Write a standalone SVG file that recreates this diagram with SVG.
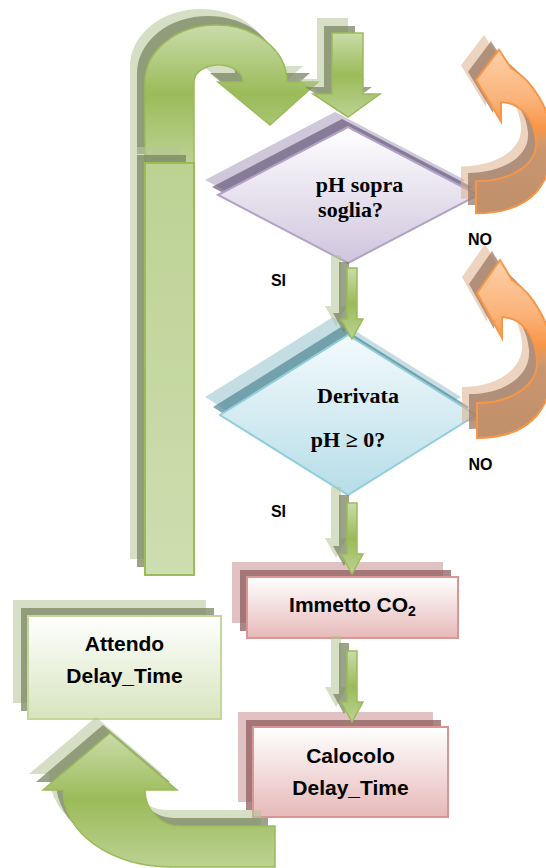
<svg xmlns="http://www.w3.org/2000/svg" xmlns:xlink="http://www.w3.org/1999/xlink" width="546" height="868" viewBox="0 0 546 868">
  <defs>
    <style>
      .g1 { fill: #b4c496; fill-opacity: .55; }
      .g2 { fill: #7a8660; fill-opacity: .75; }
      .p1 { fill: #c79090; fill-opacity: .55; }
      .p2 { fill: #8f5e5e; fill-opacity: .75; }
      .v1 { fill: #a899bc; fill-opacity: .55; }
      .v2 { fill: #6f6382; fill-opacity: .75; }
      .b1 { fill: #92c1cc; fill-opacity: .55; }
      .b2 { fill: #578c98; fill-opacity: .75; }
      .o1 { fill: #dcb18c; fill-opacity: .55; }
      .o2 { fill: #9c7963; fill-opacity: .75; }
      .garrow { fill: url(#gArrow); stroke: #9bbb59; stroke-width: 1.5; }
      .gbar { fill: url(#gBar); stroke: #9bbb59; stroke-width: 2; }
      .oarrow { fill: url(#oGrad); stroke: #f79646; stroke-width: 2; }
      .boxG { fill: url(#fillGreen); stroke: #c3d69b; stroke-width: 2; }
      .boxP { fill: url(#fillPink); stroke: #d99694; stroke-width: 2; }
      .diaV { fill: url(#fillViolet); stroke: #b2a2c7; stroke-width: 2; }
      .diaB { fill: url(#fillBlue); stroke: #92cddc; stroke-width: 2; }
      .sans { font-family: "Liberation Sans", Arial, sans-serif; font-weight: bold; fill: #000; }
      .serif { font-family: "Liberation Serif", "Times New Roman", serif; font-weight: bold; font-size: 22px; fill: #000; }
      .box-txt { font-size: 21px; }
      .lbl { font-size: 16px; }
    </style>

    <linearGradient id="gArrow" x1="0" y1="0" x2="0" y2="1">
      <stop offset="0" stop-color="#c9dcaa"/>
      <stop offset="0.5" stop-color="#9bbb59"/>
      <stop offset="1" stop-color="#bcd293"/>
    </linearGradient>
    <linearGradient id="gBar" x1="0" y1="0" x2="0" y2="1">
      <stop offset="0" stop-color="#bcd293"/>
      <stop offset="1" stop-color="#cddeb0"/>
    </linearGradient>
    <linearGradient id="oGrad" x1="0" y1="0" x2="0" y2="1">
      <stop offset="0" stop-color="#fdd0a8"/>
      <stop offset="0.3" stop-color="#fbb37a"/>
      <stop offset="0.48" stop-color="#f79646"/>
      <stop offset="0.56" stop-color="#d59a6c"/>
      <stop offset="0.62" stop-color="#c8956e"/>
      <stop offset="1" stop-color="#c0906c"/>
    </linearGradient>
    <linearGradient id="fillGreen" x1="0" y1="0" x2="0" y2="1">
      <stop offset="0" stop-color="#ffffff"/>
      <stop offset="1" stop-color="#d7e4bd"/>
    </linearGradient>
    <linearGradient id="fillPink" x1="0" y1="0" x2="0" y2="1">
      <stop offset="0" stop-color="#ffffff"/>
      <stop offset="1" stop-color="#e6b9b8"/>
    </linearGradient>
    <linearGradient id="fillViolet" x1="0" y1="0" x2="0" y2="1">
      <stop offset="0" stop-color="#ffffff"/>
      <stop offset="1" stop-color="#cfc5dd"/>
    </linearGradient>
    <linearGradient id="fillBlue" x1="0" y1="0" x2="0" y2="1">
      <stop offset="0" stop-color="#f4fafc"/>
      <stop offset="1" stop-color="#b6dde8"/>
    </linearGradient>

    <!-- reusable outlines -->
    <polygon id="dia1" points="218,195 348,127 478,195 348,263"/>
    <polygon id="dia2" points="220,415 348,335 476,415 348,495"/>
    <path id="uTurn" d="M145,163 L145,82 A71,57 0 0 1 287,82 L318,82 L270,125 L218,82 L243,82 A24.5,17 0 0 0 194,82 L194,163 Z"/>
    <rect id="bar" x="145" y="163" width="49" height="412"/>
    <path id="topArrow" d="M332,33 L363,33 L363,94 L380,94 L348,117 L313,94 L332,94 Z"/>
    <path id="smallArrow" d="M-5,-71 L5,-71 L5,-20 L11,-20 L0,0 L-11,-20 L-5,-20 Z"/>
    <path id="bendArrow" d="M110,733 L177,790 L145,790 A35,36 0 0 0 180,826 L275,826 L275,867 L170,867 A107,77 0 0 1 63,790 L43,790 Z"/>
    <path id="curlArrow" d="M0,0 L23,-33 L35,-13 C55,0 76,30 76,70 C76,110 58,145 0,145 L0,110 C35,110 62,92 60,66 C58,42 45,25 25,24 L25,45 Z"/>
  </defs>

  <rect width="546" height="868" fill="#ffffff"/>

  <!-- decision: pH above threshold -->
  <g id="check-ph">
    <use href="#dia1" class="v1" transform="translate(-13,-15)"/>
    <use href="#dia1" class="v2" transform="translate(-6,-8)"/>
    <use href="#dia1" class="diaV"/>
    <text class="serif" x="359.5" y="192" text-anchor="middle">pH sopra</text>
    <text class="serif" x="350.5" y="217" text-anchor="middle">soglia?</text>
  </g>

  <!-- decision: pH derivative -->
  <g id="check-derivative">
    <use href="#dia2" class="b1" transform="translate(-15,-18)"/>
    <use href="#dia2" class="b2" transform="translate(-7,-8)"/>
    <use href="#dia2" class="diaB"/>
    <text class="serif" x="358" y="403" text-anchor="middle">Derivata</text>
    <text class="serif" x="348" y="447" text-anchor="middle">pH ≥ 0?</text>
  </g>

  <!-- action: inject CO2 -->
  <g id="inject-co2">
    <rect class="p1" x="232" y="562" width="211" height="61"/>
    <rect class="p2" x="240" y="570" width="211" height="61"/>
    <rect class="boxP" x="247" y="577" width="211" height="61"/>
    <text class="sans box-txt" x="352.5" y="612" text-anchor="middle">Immetto CO<tspan font-size="14" dy="4">2</tspan></text>
  </g>

  <!-- action: compute delay -->
  <g id="compute-delay">
    <rect class="p1" x="238" y="712" width="195" height="90"/>
    <rect class="p2" x="246" y="720" width="195" height="90"/>
    <rect class="boxP" x="253" y="727" width="195" height="90"/>
    <text class="sans box-txt" x="350.5" y="763" text-anchor="middle">Calocolo</text>
    <text class="sans box-txt" x="350.5" y="795" text-anchor="middle">Delay_Time</text>
  </g>

  <!-- action: wait -->
  <g id="wait-delay">
    <rect class="g1" x="13" y="600" width="193" height="103"/>
    <rect class="g2" x="21" y="608" width="193" height="103"/>
    <rect class="boxG" x="28" y="616" width="193" height="103"/>
    <text class="sans box-txt" x="124.5" y="651" text-anchor="middle">Attendo</text>
    <text class="sans box-txt" x="124.5" y="683" text-anchor="middle">Delay_Time</text>
  </g>

  <!-- flow arrows -->
  <g id="connectors">
    <!-- return path from wait box up and over to the first decision -->
    <g id="loop-return">
      <use href="#uTurn" class="g1" transform="translate(-15,-16)"/>
      <use href="#uTurn" class="g2" transform="translate(-8,-9)"/>
      <use href="#uTurn" class="garrow"/>
      <use href="#bar" class="g1" transform="translate(-15,-16)"/>
      <use href="#bar" class="g2" transform="translate(-8,-8)"/>
      <use href="#bar" class="gbar"/>
    </g>

    <g id="entry-arrow">
      <use href="#topArrow" class="g1" transform="translate(-15,-15)"/>
      <use href="#topArrow" class="g2" transform="translate(-8,-7)"/>
      <use href="#topArrow" class="garrow"/>
    </g>

    <g id="si-1" transform="translate(352,339)">
      <use href="#smallArrow" class="g1" transform="translate(-16,-13)"/>
      <use href="#smallArrow" class="g2" transform="translate(-8,-6)"/>
      <use href="#smallArrow" class="garrow"/>
    </g>
    <g id="si-2" transform="translate(352,574)">
      <use href="#smallArrow" class="g1" transform="translate(-16,-16)"/>
      <use href="#smallArrow" class="g2" transform="translate(-8,-8)"/>
      <use href="#smallArrow" class="garrow"/>
    </g>
    <g id="co2-to-delay" transform="translate(352,722)">
      <use href="#smallArrow" class="g1" transform="translate(-16,-15)"/>
      <use href="#smallArrow" class="g2" transform="translate(-8,-8)"/>
      <use href="#smallArrow" class="garrow"/>
    </g>

    <g id="delay-to-wait">
      <use href="#bendArrow" class="g1" transform="translate(-14,-16)"/>
      <use href="#bendArrow" class="g2" transform="translate(-7,-8)"/>
      <use href="#bendArrow" class="garrow"/>
    </g>

    <!-- NO branches loop back on themselves -->
    <g id="no-1" transform="translate(476,80) scale(1,0.92)">
      <use href="#curlArrow" class="o1" transform="translate(-15,-16)"/>
      <use href="#curlArrow" class="o2" transform="translate(-8,-9)"/>
      <use href="#curlArrow" class="oarrow"/>
    </g>
    <g id="no-2" transform="translate(477,293)">
      <use href="#curlArrow" class="o1" transform="translate(-15,-16)"/>
      <use href="#curlArrow" class="o2" transform="translate(-8,-9)"/>
      <use href="#curlArrow" class="oarrow"/>
    </g>

    <g id="branch-labels">
      <text class="sans lbl" x="480" y="245" text-anchor="middle">NO</text>
      <text class="sans lbl" x="480.5" y="470" text-anchor="middle">NO</text>
      <text class="sans lbl" x="278.5" y="286" text-anchor="middle">SI</text>
      <text class="sans lbl" x="278.5" y="517" text-anchor="middle">SI</text>
    </g>
  </g>
</svg>
